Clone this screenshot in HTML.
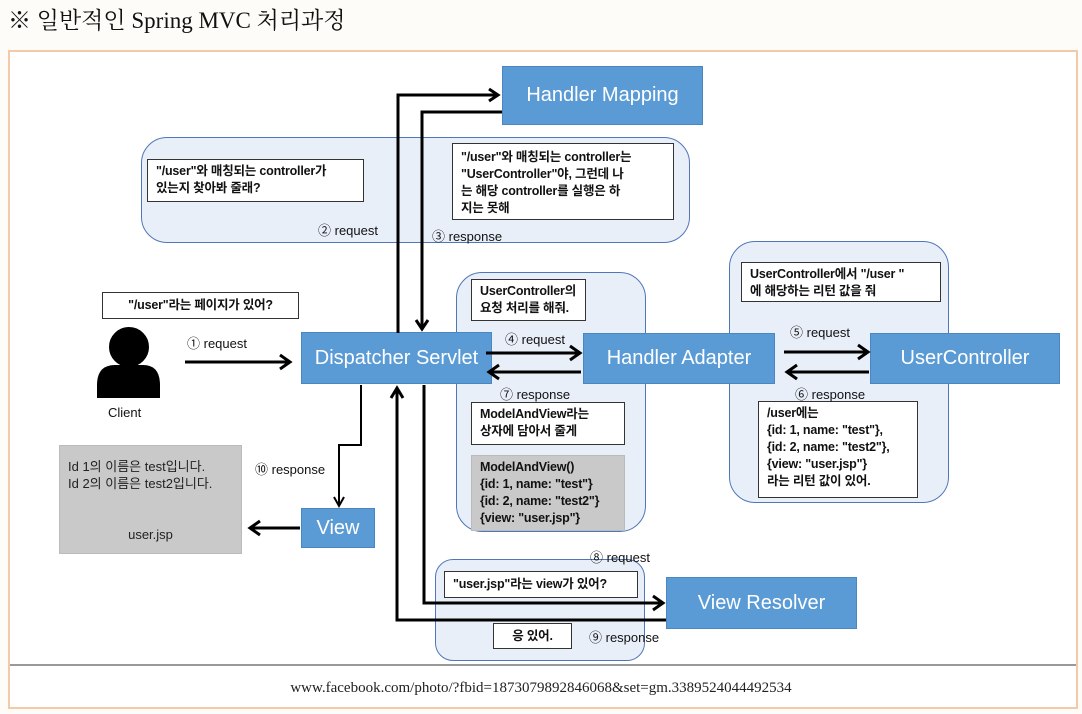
<!DOCTYPE html>
<html><head><meta charset="utf-8"><style>
body{margin:0;width:1082px;height:714px;background:#fdfcf9;position:relative;overflow:hidden;font-family:"Liberation Sans","Noto Sans CJK KR",sans-serif}
.a{position:absolute;box-sizing:border-box}
.blue{background:#5b9bd5;color:#fff;font-size:20px;display:flex;align-items:center;justify-content:center;border:1px solid #4a86c0}
.grp{background:#e9eff9;border:1.5px solid #4f77b8;border-radius:26px}
.note{background:#fff;border:1.5px solid #333;font-size:12.5px;font-weight:bold;line-height:17px;padding:3px 8px;color:#111;white-space:nowrap;letter-spacing:-0.2px}
.lbl{font-size:13px;color:#111;white-space:nowrap}
</style></head><body>
<div class="a" style="left:8px;top:2px;font-family:'Liberation Serif','Noto Serif CJK SC',serif;font-size:23px;color:#111">※ 일반적인 Spring MVC 처리과정</div>
<div class="a" style="left:8px;top:50px;width:1070px;height:659px;border:2px solid #f4c9a8;background:#fff"></div>
<div class="a" style="left:10px;top:664px;width:1066px;height:2px;background:#999"></div>
<div class="a" style="left:0;top:680px;width:1082px;text-align:center;font-family:'Liberation Serif',serif;font-size:15px;color:#222">www.facebook.com/photo/?fbid=1873079892846068&amp;set=gm.3389524044492534</div>

<div class="a grp" style="left:141px;top:137px;width:549px;height:106px"></div>
<div class="a grp" style="left:456px;top:272px;width:190px;height:260px"></div>
<div class="a grp" style="left:729px;top:241px;width:220px;height:262px"></div>
<div class="a grp" style="left:435px;top:559px;width:210px;height:102px;border-radius:18px"></div>

<div class="a note" style="left:147px;top:159px;width:217px;height:43px">"/user"와 매칭되는 controller가<br>있는지 찾아봐 줄래?</div>
<div class="a note" style="left:452px;top:143px;width:222px;height:77px;padding-top:5px">"/user"와 매칭되는 controller는<br>"UserController"야, 그런데 나<br>는 해당 controller를 실행은 하<br>지는 못해</div>
<div class="a note" style="left:102px;top:292px;width:197px;height:27px;padding-top:4px;text-align:center">"/user"라는 페이지가 있어?</div>
<div class="a note" style="left:471px;top:279px;width:115px;height:42px">UserController의<br>요청 처리를 해줘.</div>
<div class="a note" style="left:741px;top:262px;width:200px;height:40px">UserController에서 "/user "<br>에 해당하는 리턴 값을 줘</div>
<div class="a note" style="left:471px;top:402px;width:154px;height:43px">ModelAndView라는<br>상자에 담아서 줄게</div>
<div class="a note" style="left:471px;top:455px;width:154px;height:76px;background:#c9c9c9;border:1px solid #bbb">ModelAndView()<br>{id: 1, name: "test"}<br>{id: 2, name: "test2"}<br>{view: "user.jsp"}</div>
<div class="a note" style="left:758px;top:401px;width:160px;height:97px">/user에는<br>{id: 1, name: "test"},<br>{id: 2, name: "test2"},<br>{view: "user.jsp"}<br>라는 리턴 값이 있어.</div>
<div class="a note" style="left:444px;top:571px;width:194px;height:27px;padding-top:4px">"user.jsp"라는 view가 있어?</div>
<div class="a note" style="left:493px;top:623px;width:79px;height:26px;padding-top:4px;text-align:center">응 있어.</div>
<div class="a" style="left:59px;top:445px;width:183px;height:109px;background:#c9c9c9;border:1px solid #bbb;font-size:13px;color:#222;padding:12px 8px;line-height:17px">Id 1의 이름은 test입니다.<br>Id 2의 이름은 test2입니다.<div style="position:absolute;left:0;width:100%;top:80px;text-align:center">user.jsp</div></div>

<div class="a blue" style="left:502px;top:66px;width:201px;height:59px">Handler Mapping</div>
<div class="a blue" style="left:301px;top:332px;width:191px;height:52px">Dispatcher Servlet</div>
<div class="a blue" style="left:583px;top:333px;width:192px;height:51px">Handler Adapter</div>
<div class="a blue" style="left:870px;top:333px;width:190px;height:51px">UserController</div>
<div class="a blue" style="left:301px;top:508px;width:74px;height:40px">View</div>
<div class="a blue" style="left:666px;top:577px;width:191px;height:52px">View Resolver</div>

<div class="a lbl" style="left:318px;top:220px">② request</div>
<div class="a lbl" style="left:432px;top:226px">③ response</div>
<div class="a lbl" style="left:187px;top:333px">① request</div>
<div class="a lbl" style="left:505px;top:329px">④ request</div>
<div class="a lbl" style="left:500px;top:384px">⑦ response</div>
<div class="a lbl" style="left:790px;top:322px">⑤ request</div>
<div class="a lbl" style="left:795px;top:384px">⑥ response</div>
<div class="a lbl" style="left:255px;top:459px">⑩ response</div>
<div class="a lbl" style="left:590px;top:547px">⑧ request</div>
<div class="a lbl" style="left:589px;top:627px">⑨ response</div>
<div class="a lbl" style="left:108px;top:405px">Client</div>

<svg class="a" style="left:0;top:0" width="1082" height="714" fill="none" stroke="#000" stroke-width="3">
<circle cx="129" cy="347" r="21" fill="#000" stroke="#fff" stroke-width="2"/>
<path d="M97 398 V385 Q97 365 115 365 H143 Q160 365 160 385 V398 Z" fill="#000" stroke="none"/>
<path d="M398 333 V95 H497"/><path d="M489 89 L498 95 L489 101"/>
<path d="M502 112 H422 V328"/><path d="M416 320 L422 329 L428 320"/>
<path d="M185 362 H288"/><path d="M280 355 L290 362 L280 369"/>
<path d="M486 353 H578"/><path d="M570 346 L580 353 L570 360"/>
<path d="M581 372 H491"/><path d="M499 365 L489 372 L499 379"/>
<path d="M784 352 H866"/><path d="M858 345 L868 352 L858 359"/>
<path d="M869 372 H789"/><path d="M797 365 L787 372 L797 379"/>
<path d="M361 385 V445 H339 V504" stroke-width="2"/><path d="M334 497 L339 506 L344 497" stroke-width="2"/>
<path d="M300 528 H252"/><path d="M260 521 L250 528 L260 535"/>
<path d="M424 385 V603 H661"/><path d="M653 596 L663 603 L653 610"/>
<path d="M666 620 H397 V390"/><path d="M391 398 L397 388 L403 398"/>
</svg>
</body></html>
